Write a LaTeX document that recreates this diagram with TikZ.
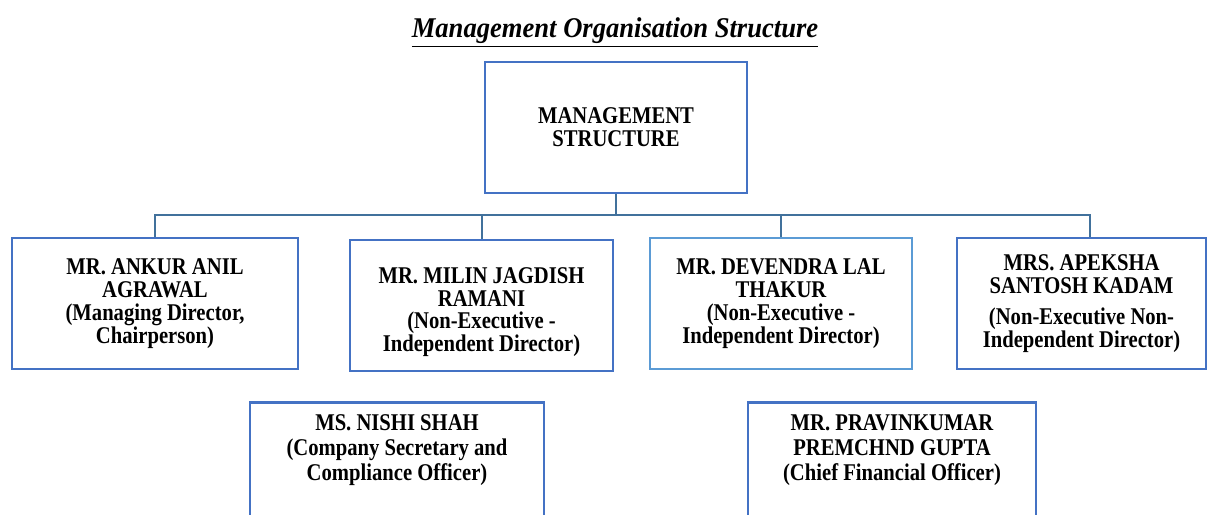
\documentclass[tikz,border=0pt]{standalone}
\usepackage{fontspec}
\setmainfont[FakeStretch=0.86]{Liberation Serif}
\newfontfamily\titlefont[FakeStretch=0.93]{Liberation Serif}
\definecolor{boxblue}{HTML}{4472C4}
\definecolor{lightblue}{HTML}{5B9BD5}
\definecolor{linkblue}{HTML}{41719C}
\tikzset{
  person/.style={draw=boxblue, line width=1.3pt, align=center, inner sep=0pt,
    font=\bfseries\fontsize{12}{11.4}\selectfont, minimum height=65.5pt},
  nametext/.style={align=center, inner sep=0pt, font=\bfseries\fontsize{12}{12.6}\selectfont},
  link/.style={draw=linkblue, line width=1pt}
}
\begin{document}
\begin{tikzpicture}[x=0.5pt,y=-0.5pt]
      \useasboundingbox (0,0) rectangle (1208,514);
      \clip (0,0) rectangle (1208,514);
      \node[font=\titlefont\bfseries\itshape\fontsize{14.3}{16}\selectfont] (title) at (615,33)
        {\underline{Management Organisation Structure}};
      \node[person, minimum width=131pt] (mgmt) at (616,127.5) {MANAGEMENT\\STRUCTURE};
      \coordinate (bus) at (616,215);
      \node[person, minimum width=143pt] (agrawal) at (155,303.5)
        {MR. ANKUR ANIL\\AGRAWAL\\(Managing Director,\\Chairperson)};
      \node[person, minimum width=131.5pt] (ramani) at (481.5,305.5)
        {\rule{0pt}{14.6pt}MR. MILIN JAGDISH\\RAMANI\\(Non-Executive -\\Independent Director)};
      \node[person, draw=lightblue, minimum width=131pt] (thakur) at (781,303.5)
        {MR. DEVENDRA LAL\\THAKUR\\(Non-Executive -\\Independent Director)};
      \node[person, minimum width=124.5pt] (kadam) at (1081.5,303.5)
        {MRS. APEKSHA\\SANTOSH KADAM\\[4pt](Non-Executive Non-\\Independent Director)};
      \node[person, minimum width=147pt, anchor=north] (shah) at (397,401) {};
      \node[nametext, anchor=north] (shahtext) at (397,414)
        {MS. NISHI SHAH\\(Company Secretary and\\Compliance Officer)};
      \node[person, minimum width=144pt, anchor=north] (gupta) at (892,401) {};
      \node[nametext, anchor=north] (guptatext) at (892,414)
        {MR. PRAVINKUMAR\\PREMCHND GUPTA\\(Chief Financial Officer)};
      % connectors
      \draw[link] (mgmt.south) -- (bus);
      \draw[link] (agrawal.north) |- (bus);
      \draw[link] (ramani.north) |- (bus);
      \draw[link] (thakur.north) |- (bus);
      \draw[link] ([xshift=4.25pt]kadam.north) |- (bus);
    \end{tikzpicture}
\end{document}
